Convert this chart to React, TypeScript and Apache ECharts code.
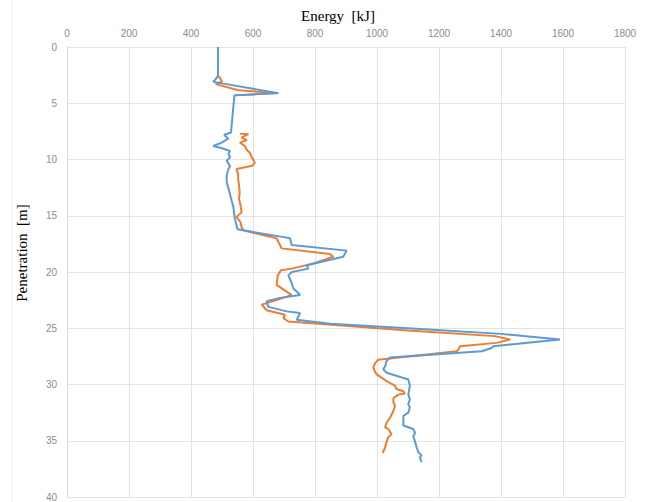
import React, { useEffect, useRef } from "react";
import * as echarts from "echarts";

const xTicks = [0, 200, 400, 600, 800, 1000, 1200, 1400, 1600, 1800];
const yTicks = [0, 5, 10, 15, 20, 25, 30, 35, 40];

const blueDepth = [0, 2.6, 3.1, 4.1, 4.3, 7.6, 7.8, 8.15, 8.5, 8.8, 9.0, 9.25, 9.5, 9.8, 10.1, 10.6, 10.9, 11.45, 12.0, 12.5, 13.1, 13.65, 14.25, 14.8, 15.3, 16.2, 16.45, 16.9, 17.0, 17.6, 18.1, 18.65, 19.4, 19.7, 20.0, 20.3, 21.0, 21.45, 22.05, 22.3, 22.6, 23.1, 23.5, 23.65, 24.25, 24.6, 25.0, 25.5, 26.0, 26.6, 26.75, 27.05, 27.6, 27.9, 28.4, 28.65, 28.95, 29.55, 30.1, 30.9, 31.3, 31.75, 32.05, 32.5, 32.8, 33.65, 33.95, 34.3, 34.6, 35.1, 35.6, 36.0, 36.3, 36.5, 36.9];
const blueEnergy = [487, 487, 472, 681, 540, 529, 507, 520, 499, 472, 500, 526, 521, 526, 515, 526, 520, 515, 515, 520, 526, 531, 537, 539, 542, 550, 600, 700, 719, 725, 902, 891, 773, 779, 725, 714, 725, 730, 752, 687, 644, 649, 709, 752, 741, 850, 1100, 1400, 1590, 1375, 1370, 1338, 1042, 1031, 1026, 1020, 1031, 1101, 1106, 1101, 1106, 1101, 1106, 1101, 1085, 1085, 1117, 1123, 1117, 1123, 1128, 1133, 1144, 1138, 1144];

const orangeTopDepth = [2.6, 3.05, 3.3, 3.85, 4.1, 4.3];
const orangeTopEnergy = [490, 500, 480, 553, 682, 540];

const orangeDepth = [7.7, 7.75, 8.06, 8.27, 8.5, 8.8, 9.15, 9.4, 9.8, 10.3, 10.55, 10.85, 11.3, 11.7, 12.3, 12.9, 13.5, 14.1, 14.7, 15.1, 15.6, 16.0, 16.3, 17.0, 17.6, 17.9, 18.4, 18.65, 19.25, 19.7, 19.85, 20.3, 21.15, 22.05, 22.5, 22.9, 23.4, 23.8, 24.1, 24.4, 25.2, 25.7, 26.0, 26.3, 26.6, 26.9, 27.05, 27.8, 28.1, 28.5, 28.9, 29.1, 29.7, 30.1, 30.4, 30.6, 30.8, 30.9, 31.2, 31.6, 31.9, 32.35, 32.95, 33.4, 33.8, 33.95, 34.4, 34.7, 35.1, 35.6, 36.0, 36.1];
const orangeEnergy = [558, 585, 563, 580, 558, 574, 580, 590, 596, 606, 598, 547, 552, 552, 555, 557, 555, 560, 563, 547, 560, 563, 569, 676, 687, 692, 848, 859, 795, 725, 690, 680, 676, 725, 676, 628, 644, 703, 698, 714, 1100, 1380, 1429, 1386, 1268, 1262, 1257, 1004, 994, 988, 994, 999, 1031, 1058, 1063, 1085, 1090, 1069, 1053, 1053, 1058, 1053, 1042, 1031, 1026, 1036, 1047, 1036, 1031, 1026, 1020, 1018];

const BLUE = "#5B9BD5";
const ORANGE = "#ED7D31";

const pairs = (xs: number[], ys: number[]) => xs.map((x, i) => [x, ys[i]]);

export default function App() {
  const ref = useRef<HTMLDivElement>(null);
  useEffect(() => {
    if (!ref.current) return;
    const chart = echarts.init(ref.current, null, { renderer: "svg" });
    const lineStyle = (c: string) => ({ color: c, width: 2 });
    chart.setOption({
      animation: false,
      backgroundColor: "#ffffff",
      grid: { left: 67, right: 28, top: 47, bottom: 2 },
      xAxis: {
        type: "value",
        position: "top",
        min: xTicks[0],
        max: xTicks[xTicks.length - 1],
        interval: 200,
        axisLine: { show: false },
        axisTick: { show: false },
        axisLabel: {
          color: "#8c8c8c",
          fontSize: 10,
          fontFamily: "Liberation Sans",
          margin: 9,
          formatter: (v: number) => String(v),
        },
        splitLine: { show: true, lineStyle: { color: "#e3e3e3", width: 1 } },
      },
      yAxis: {
        type: "value",
        inverse: true,
        min: yTicks[0],
        max: yTicks[yTicks.length - 1],
        interval: 5,
        axisLine: { show: true, lineStyle: { color: "#d9d9d9", width: 1 } },
        axisTick: { show: false },
        axisLabel: {
          color: "#8c8c8c",
          fontSize: 10,
          fontFamily: "Liberation Sans",
          margin: 10,
          formatter: (v: number) => String(v),
        },
        splitLine: { show: true, lineStyle: { color: "#e3e3e3", width: 1 } },
      },
      graphic: [
        {
          type: "line",
          shape: { x1: 12, y1: 0, x2: 12, y2: 502 },
          style: { stroke: "#f0f0f0", lineWidth: 1 },
        },
        {
          type: "text",
          x: 338,
          y: 16,
          style: {
            text: "Energy  [kJ]",
            fontFamily: "Liberation Serif",
            fontSize: 15,
            fill: "#000000",
            align: "center",
            verticalAlign: "middle",
          },
        },
        {
          type: "text",
          x: 22,
          y: 253,
          rotation: Math.PI / 2,
          style: {
            text: "Penetration  [m]",
            fontFamily: "Liberation Serif",
            fontSize: 15,
            fill: "#000000",
            align: "center",
            verticalAlign: "middle",
          },
        },
      ],
      series: [
        {
          type: "line",
          data: pairs(orangeTopEnergy, orangeTopDepth),
          showSymbol: false,
          lineStyle: lineStyle(ORANGE),
          itemStyle: { color: ORANGE },
          z: 2,
        },
        {
          type: "line",
          data: pairs(orangeEnergy, orangeDepth),
          showSymbol: false,
          lineStyle: lineStyle(ORANGE),
          itemStyle: { color: ORANGE },
          z: 2,
        },
        {
          type: "line",
          data: pairs(blueEnergy, blueDepth),
          showSymbol: false,
          lineStyle: lineStyle(BLUE),
          itemStyle: { color: BLUE },
          z: 3,
        },
      ],
    });
    return () => chart.dispose();
  }, []);
  return (
    <div
      ref={ref}
      style={{ position: "fixed", left: 0, top: 0, width: 653, height: 502 }}
    />
  );
}
